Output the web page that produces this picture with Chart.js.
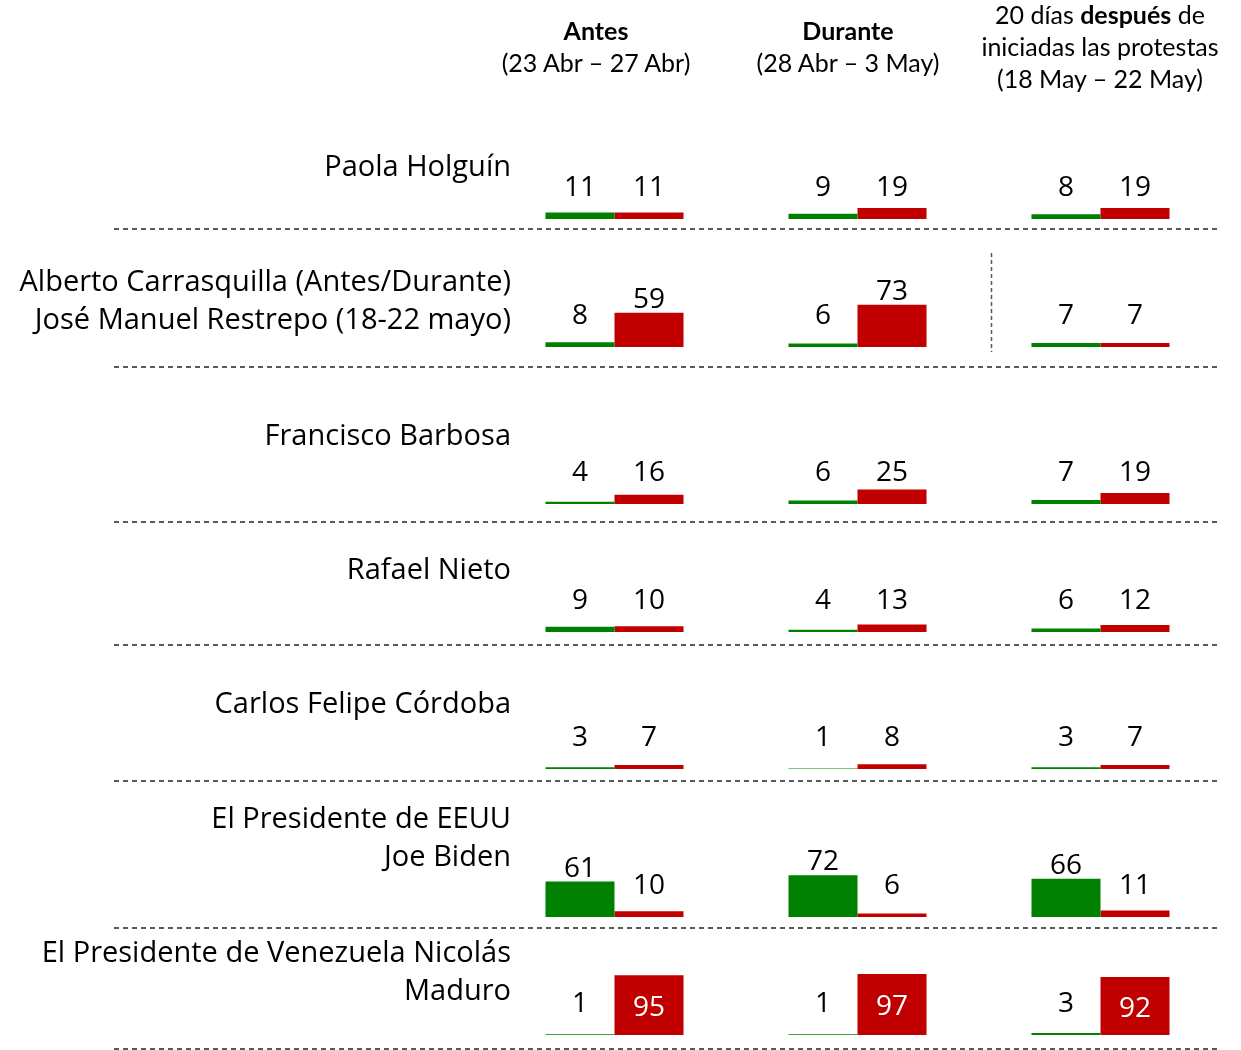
<!DOCTYPE html>
<html lang="es">
<head>
<meta charset="utf-8">
<title>Imagen favorable y desfavorable</title>
<script src="https://cdn.jsdelivr.net/npm/chart.js@4.4.1/dist/chart.umd.min.js"></script>
<style>
  html, body { margin: 0; padding: 0; background: #fff; }
  #wrap { position: relative; width: 1241px; height: 1050px; overflow: hidden; font-family: "Open Sans", sans-serif; color: #000; }
  #chart { position: absolute; left: 0; top: 0; }
  .head { position: absolute; width: 300px; margin-left: -150px; text-align: center; font-family: Lato, sans-serif; font-size: 25px; line-height: 32px; white-space: nowrap; }
  .name { position: absolute; right: 730px; text-align: right; font-size: 29px; line-height: 38px; white-space: nowrap; }
</style>
</head>
<body>
<div id="wrap">
  <canvas id="chart" width="1241" height="1050"></canvas>
</div>
<script>
const periods = ["Antes", "Durante", "Después"];
const periodHeads = [
  ["<b>Antes</b>", "(23 Abr – 27 Abr)"],
  ["<b>Durante</b>", "(28 Abr – 3 May)"],
  ["20 días <b>después</b> de", "iniciadas las protestas", "(18 May – 22 May)"]
];
const rowLabels = [
  ["Paola Holguín"],
  ["Alberto Carrasquilla (Antes/Durante)", "José Manuel Restrepo (18-22 mayo)"],
  ["Francisco Barbosa"],
  ["Rafael Nieto"],
  ["Carlos Felipe Córdoba"],
  ["El Presidente de EEUU", "Joe Biden"],
  ["El Presidente de Venezuela Nicolás", "Maduro"]
];
// favorable / desfavorable por persona: [Antes, Durante, Después]
const favorable = [
  [11, 9, 8],
  [8, 6, 7],
  [4, 6, 7],
  [9, 4, 6],
  [3, 1, 3],
  [61, 72, 66],
  [1, 1, 3]
];
const unfavorable = [
  [11, 19, 19],
  [59, 73, 7],
  [16, 25, 19],
  [10, 13, 12],
  [7, 8, 7],
  [10, 6, 11],
  [95, 97, 92]
];

// geometry of each row band (px)
const firstRowTop = 110;
const rowBottom = [229, 367, 522, 645, 781, 928, 1049];
const baseGap = [10, 20, 18, 13, 12, 11, 14];
const pxPerUnit = [0.58, 0.58, 0.58, 0.58, 0.58, 0.58, 0.63];
const labelTop = [146, 261, 415, 549, 683, 798, 932];
const headX = [596, 848, 1100];
const headTop = [14, 14, -2];

const GREEN = "#008000";
const RED = "#C00000";

const wrap = document.getElementById("wrap");
periodHeads.forEach((lines, i) => {
  const d = document.createElement("div");
  d.className = "head";
  d.style.left = headX[i] + "px";
  d.style.top = headTop[i] + "px";
  d.innerHTML = lines.join("<br>");
  wrap.appendChild(d);
});
rowLabels.forEach((lines, r) => {
  const d = document.createElement("div");
  d.className = "name";
  d.style.top = labelTop[r] + "px";
  d.innerHTML = lines.join("<br>");
  wrap.appendChild(d);
});

// one hidden y axis per row, stacked vertically
const scales = { x: { type: "category", labels: periods, display: false, offset: true } };
rowBottom.forEach((bottom, r) => {
  const top = r === 0 ? firstRowTop : rowBottom[r - 1];
  const h = bottom - top;
  scales["y" + r] = {
    type: "linear",
    position: "left",
    stack: "rows",
    stackWeight: h,
    weight: rowBottom.length - r,
    min: -baseGap[r] / pxPerUnit[r],
    max: (h - baseGap[r]) / pxPerUnit[r],
    ticks: { display: false },
    grid: { display: false, drawTicks: false },
    border: { display: false },
    afterFit: (s) => { s.width = 0; }
  };
});

const datasets = [];
favorable.forEach((vals, r) => {
  datasets.push({ label: "Favorable", data: vals, backgroundColor: GREEN, stack: "fav", yAxisID: "y" + r });
  datasets.push({ label: "Desfavorable", data: unfavorable[r], backgroundColor: RED, stack: "unf", yAxisID: "y" + r });
});

const rowDecor = {
  id: "rowDecor",
  beforeDatasetsDraw(chart) {
    const ctx = chart.ctx;
    ctx.save();
    ctx.strokeStyle = "#595959";
    ctx.lineWidth = 2;
    ctx.setLineDash([5, 4]);
    rowBottom.forEach((_, r) => {
      const y = Math.round(chart.scales["y" + r].bottom);
      ctx.beginPath();
      ctx.moveTo(114, y);
      ctx.lineTo(1218, y);
      ctx.stroke();
    });
    // separador vertical: cambio de ministro en la fila 2
    const xs = chart.scales.x;
    const row = chart.scales.y1;
    const xv = Math.round((xs.getPixelForValue(1) + xs.getPixelForValue(2)) / 2 + 12) + 0.5;
    ctx.lineWidth = 1.5;
    ctx.setLineDash([4, 3]);
    ctx.beginPath();
    ctx.moveTo(xv, row.top + 24);
    ctx.lineTo(xv, row.bottom - 15);
    ctx.stroke();
    ctx.restore();
  }
};

const valueLabels = {
  id: "valueLabels",
  afterDatasetsDraw(chart) {
    const ctx = chart.ctx;
    ctx.save();
    ctx.font = '28px "Open Sans"';
    ctx.textAlign = "center";
    ctx.textBaseline = "middle";
    chart.data.datasets.forEach((ds, i) => {
      chart.getDatasetMeta(i).data.forEach((bar, j) => {
        const v = ds.data[j];
        let y;
        if (v >= 90) {
          ctx.fillStyle = "#fff";
          y = (bar.y + bar.base) / 2 + 3;
        } else {
          ctx.fillStyle = "#000";
          y = Math.min(bar.base - 31, bar.y - 13);
        }
        ctx.fillText(String(v), bar.x, y);
      });
    });
    ctx.restore();
  }
};

new Chart(document.getElementById("chart"), {
  type: "bar",
  data: { labels: periods, datasets },
  options: {
    responsive: false,
    animation: false,
    devicePixelRatio: 1,
    categoryPercentage: 0.568,
    barPercentage: 1,
    layout: { padding: { top: firstRowTop, bottom: 1, left: 493, right: 19 } },
    scales,
    plugins: {
      legend: { display: false },
      tooltip: { enabled: false }
    }
  },
  plugins: [rowDecor, valueLabels]
});
</script>
</body>
</html>
